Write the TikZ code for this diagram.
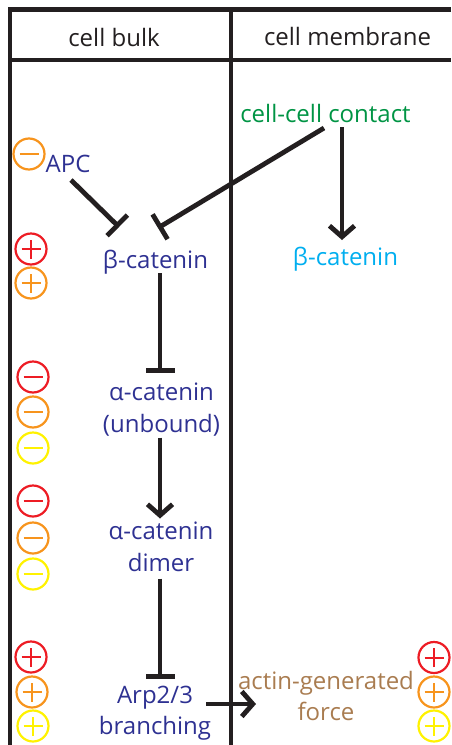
\documentclass[tikz,border=0pt]{standalone}
\usepackage{fontspec}
\setmainfont{Open Sans}
\usetikzlibrary{arrows.meta}
\definecolor{kk}{HTML}{231F20}
\definecolor{rr}{HTML}{ED1C24}
\definecolor{oo}{HTML}{F7941D}
\definecolor{yy}{HTML}{FFF200}
\definecolor{bb}{HTML}{2E3192}
\definecolor{gg}{HTML}{009444}
\definecolor{cc}{HTML}{00AEEF}
\definecolor{br}{HTML}{A97C50}
\tikzset{
  frameline/.style={draw=kk,line width=4.6pt},
  lbl/.style={font=\fontsize{24}{31.5}\selectfont,align=center,inner sep=0pt,text depth=0pt},
  head/.style={lbl,text=kk},
  mol/.style={lbl,text=bb},
  inhib/.style={draw=kk,line width=4.8pt,-{Bar[width=29pt,line width=4.8pt,length=0pt]}},
  act/.style={draw=kk,line width=4.8pt,-{Straight Barb[length=11pt,width=25pt,line width=4.8pt]}},
  sign/.style={circle,draw=#1,line width=2.2pt,minimum size=31pt,inner sep=0pt},
  minus/.style={sign=#1,path picture={\draw[#1,line width=2pt] ([xshift=-9.5pt]path picture bounding box.center)--([xshift=9.5pt]path picture bounding box.center);}},
  plus/.style={sign=#1,path picture={\draw[#1,line width=2pt] ([xshift=-9.5pt]path picture bounding box.center)--([xshift=9.5pt]path picture bounding box.center) ([yshift=-9.5pt]path picture bounding box.center)--([yshift=9.5pt]path picture bounding box.center);}},
}
\begin{document}
\begin{tikzpicture}[x=1pt,y=-1pt]
\useasboundingbox (0,0) rectangle (451,745);
% frame
\coordinate (tl) at (10,9.5); \coordinate (tr) at (451,9.5);
\coordinate (hl) at (10,60); \coordinate (hr) at (451,60);
\coordinate (bl) at (10,745); \coordinate (mt) at (231,9.5); \coordinate (mb) at (231,745);
\draw[frameline] (tr) -- (tl) -- (bl);
\draw[frameline] (hl) -- (hr);
\draw[frameline] (mt) -- (mb);
% headers
\node[head] (hbulk) at (114,37) {cell bulk};
\node[head] (hmem) at (347.5,36) {cell membrane};
% labels
\node[lbl,text=gg] (contact) at (325.5,113) {cell-cell contact};
\node[mol] (apc) at (68,164) {APC};
\node[mol] (bcat) at (155.5,259) {β-catenin};
\node[lbl,text=cc] (bcatm) at (345.5,256) {β-catenin};
\node[mol] (acat) at (161.5,407.5) {α-catenin\\(unbound)};
\node[mol] (dimer) at (161,546.5) {α-catenin\\dimer};
\node[mol] (arp) at (155,710.5) {Arp2/3\\branching};
\node[lbl,text=br] (force) at (326,696) {actin-generated\\force};
% connectors
\draw[inhib] ([shift={(3,16)}]apc.center) -- ([shift={(-36.5,-32)}]bcat.center);
\draw[inhib] ([shift={(-1.5,15)}]contact.center) -- ([shift={(2.5,-31)}]bcat.center);
\draw[act] ([shift={(16.5,14)}]contact.center) -- ([shift={(-3.5,-16)}]bcatm.center);
\draw[inhib] ([shift={(4.5,14)}]bcat.center) -- ([shift={(-1.5,-35)}]acat.center);
\draw[act] ([shift={(-1.5,30)}]acat.center) -- ([shift={(-1,-28)}]dimer.center);
\draw[inhib] ([shift={(-1,32)}]dimer.center) -- ([shift={(5,-32)}]arp.center);
\draw[act] ([shift={(51,-6.5)}]arp.center) -- ([shift={(-70,8)}]force.center);
% signs
\node[minus=oo] (s1) at (29,154) {};
\node[plus=rr] (s2) at (31,249) {};
\node[plus=oo] (s3) at (31,283) {};
\node[minus=rr] (s4) at (33,377) {};
\node[minus=oo] (s5) at (33,412) {};
\node[minus=yy] (s6) at (33,448) {};
\node[minus=rr] (s7) at (33,501) {};
\node[minus=oo] (s8) at (33,538) {};
\node[minus=yy] (s9) at (33,574) {};
\node[plus=rr] (s10) at (31,657) {};
\node[plus=oo] (s11) at (32,692) {};
\node[plus=yy] (s12) at (33,726) {};
\node[plus=rr] (s13) at (434,657.5) {};
\node[plus=oo] (s14) at (434,692) {};
\node[plus=yy] (s15) at (434,726) {};
\end{tikzpicture}
\end{document}
